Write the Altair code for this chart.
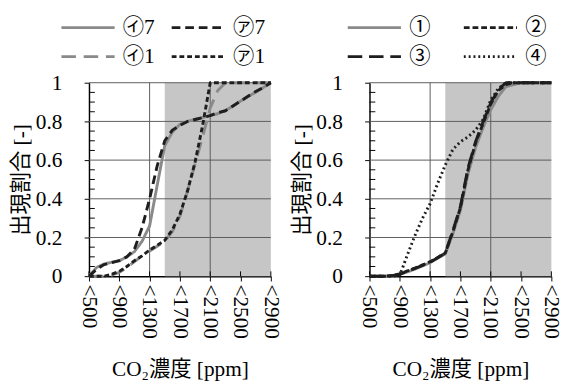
import altair as alt
import pandas as pd

# Upper bound of each CO2 concentration bin [ppm]
co2_bins = [500, 600, 700, 800, 900, 1000, 1100, 1200, 1300, 1400, 1500, 1600, 1700,
            1800, 1900, 2000, 2100, 2200, 2300, 2400, 2500, 2600, 2700, 2800, 2900]

# Left panel: cumulative share of time below each bin
left_names = ["㋑7", "㋑1", "㋐7", "㋐1"]
left_i7 = [0.0, 0.045, 0.063, 0.072, 0.08, 0.10, 0.127, 0.18, 0.26, 0.47, 0.675, 0.745, 0.785,
           0.80, 0.81, 0.82, 0.83, 0.84, 0.855, 0.88, 0.905, 0.93, 0.95, 0.975, 1.0]
left_i1 = [0.0, 0.0, 0.0, 0.005, 0.02, 0.045, 0.075, 0.105, 0.13, 0.155, 0.18, 0.23, 0.31,
           0.44, 0.58, 0.72, 0.87, 0.96, 1.0, 1.0, 1.0, 1.0, 1.0, 1.0, 1.0]
left_a7 = [0.0, 0.035, 0.06, 0.07, 0.08, 0.10, 0.14, 0.25, 0.40, 0.57, 0.70, 0.755, 0.78,
           0.80, 0.81, 0.82, 0.83, 0.845, 0.855, 0.88, 0.905, 0.93, 0.955, 0.975, 1.0]
left_a1 = [0.0, 0.0, 0.0, 0.01, 0.025, 0.05, 0.08, 0.105, 0.135, 0.16, 0.185, 0.24, 0.32,
           0.44, 0.59, 0.78, 1.0, 1.0, 1.0, 1.0, 1.0, 1.0, 1.0, 1.0, 1.0]

# Right panel
right_names = ["①", "③", "②", "④"]
right_1 = [0.0, 0.0, 0.0, 0.003, 0.01, 0.022, 0.037, 0.053, 0.07, 0.093, 0.115, 0.22, 0.34,
           0.53, 0.665, 0.77, 0.86, 0.93, 0.98, 0.99, 1.0, 1.0, 1.0, 1.0, 1.0]
right_3 = [0.0, 0.0, 0.0, 0.003, 0.01, 0.025, 0.04, 0.056, 0.073, 0.095, 0.12, 0.235, 0.36,
           0.56, 0.695, 0.80, 0.895, 0.965, 1.0, 1.0, 1.0, 1.0, 1.0, 1.0, 1.0]
right_2 = [0.0, 0.0, 0.0, 0.004, 0.012, 0.027, 0.042, 0.058, 0.075, 0.097, 0.12, 0.23, 0.355,
           0.55, 0.69, 0.79, 0.89, 0.96, 0.99, 1.0, 1.0, 1.0, 1.0, 1.0, 1.0]
right_4 = [0.0, 0.0, 0.0, 0.0, 0.005, 0.11, 0.21, 0.30, 0.375, 0.48, 0.575, 0.655, 0.695,
           0.72, 0.755, 0.81, 0.91, 0.97, 1.0, 1.0, 1.0, 1.0, 1.0, 1.0, 1.0]

# Axis ticks, grid and shaded band
x_ticks = [500, 900, 1300, 1700, 2100, 2500, 2900]
y_ticks = [0, 0.2, 0.4, 0.6, 0.8, 1]
y_minor = [0.05, 0.1, 0.15, 0.25, 0.3, 0.35, 0.45, 0.5, 0.55, 0.65, 0.7, 0.75, 0.85, 0.9, 0.95]
grid_x = [1300, 2100]
grid_y = [0.2, 0.4, 0.6, 0.8, 1.0]
shade_band = [1500, 2900]
shade_share = [0, 1]

FONT = "Liberation Serif, Noto Sans CJK JP"
GRAY = "#8a8a8a"
BLACK = "#1e1e1e"
W, H = 188, 200

xs = alt.Scale(domain=[500, 2900], nice=False, zero=False)
ys = alt.Scale(domain=[0, 1], nice=False)


def panel(names, series, colors, dashes, widths, legend_x, col_pad):
    rows = []
    for name, vals in zip(names, series):
        for c, v in zip(co2_bins, vals):
            rows.append({"co2": c, "share": v, "series": name})
    df = pd.DataFrame(rows)

    band = pd.DataFrame({"x0": [shade_band[0]], "x1": [shade_band[1]],
                         "y0": [shade_share[0]], "y1": [shade_share[1]]})
    shade = alt.Chart(band).mark_rect(color="#c6c6c6").encode(
        x=alt.X("x0:Q", scale=xs, axis=None),
        x2="x1:Q",
        y=alt.Y("y0:Q", scale=ys, axis=None),
        y2="y1:Q",
    )
    hgrid = alt.Chart(pd.DataFrame({"v": grid_y})).mark_rule(color="#5a5a5a", strokeWidth=1).encode(
        y=alt.Y("v:Q", scale=ys, axis=None)
    )
    vgrid = alt.Chart(pd.DataFrame({"v": grid_x})).mark_rule(color="#5a5a5a", strokeWidth=1).encode(
        x=alt.X("v:Q", scale=xs, axis=None)
    )
    yminor = alt.Chart(pd.DataFrame({"v": y_minor})).mark_rule(color="black", strokeWidth=1).encode(
        y=alt.Y("v:Q", scale=ys, axis=None), x=alt.value(0), x2=alt.value(6)
    )
    xinner = alt.Chart(pd.DataFrame({"v": x_ticks})).mark_rule(color="black", strokeWidth=1).encode(
        x=alt.X("v:Q", scale=xs, axis=None), y=alt.value(H - 5), y2=alt.value(H)
    )
    lines = alt.Chart(df).mark_line(strokeJoin="round").encode(
        x=alt.X(
            "co2:Q",
            scale=xs,
            title="CO₂濃度 [ppm]",
            axis=alt.Axis(values=x_ticks, labelExpr="'<' + datum.value", labelAngle=90,
                          labelPadding=3, titlePadding=21, labelOverlap=False,
                          labelFlush=False, labelFont=FONT, titleFont=FONT),
        ),
        y=alt.Y(
            "share:Q",
            scale=ys,
            title="出現割合 [-]",
            axis=alt.Axis(values=y_ticks, format=".1~f", labelPadding=23, titlePadding=3,
                          labelOverlap=False, labelFlush=False, labelFont=FONT,
                          titleFont=FONT),
        ),
        color=alt.Color(
            "series:N",
            scale=alt.Scale(domain=names, range=colors),
            legend=alt.Legend(
                orient="none", legendX=legend_x, legendY=-68, columns=2, title=None,
                symbolType="stroke", symbolSize=3025, symbolStrokeWidth=2.5,
                clipHeight=22,
                labelFont=FONT, labelFontSize=22, labelColor="black", labelOffset=7,
                columnPadding=col_pad, rowPadding=8, padding=0,
            ),
        ),
        strokeDash=alt.StrokeDash(
            "series:N", scale=alt.Scale(domain=names, range=dashes), legend=None
        ),
        strokeWidth=alt.StrokeWidth(
            "series:N", scale=alt.Scale(domain=names, range=widths), legend=None
        ),
    )
    return alt.layer(shade, hgrid, vgrid, yminor, xinner, lines).resolve_axis(
        x="independent", y="independent"
    ).properties(width=W, height=H)


left = panel(
    left_names,
    [left_i7, left_i1, left_a7, left_a1],
    [GRAY, GRAY, BLACK, BLACK],
    [[1, 0], [15, 8], [9, 5], [5, 3]],
    [3, 3, 2.5, 2.5],
    -30, 15,
)
right = panel(
    right_names,
    [right_1, right_3, right_2, right_4],
    [GRAY, BLACK, BLACK, BLACK],
    [[1, 0], [15, 7], [6, 3], [2, 3]],
    [3, 3, 2.5, 2.5],
    -24, 32,
)

chart = alt.hconcat(left, right, spacing=8).resolve_scale(
    color="independent", strokeDash="independent", strokeWidth="independent"
).properties(
    padding={"left": 10, "top": 11, "right": 0, "bottom": 0}
).configure_view(stroke=None).configure_axis(
    grid=False,
    domainColor="black",
    domainWidth=1.5,
    tickColor="black",
    tickSize=5,
    tickWidth=1,
    labelFont=FONT,
    labelFontSize=22,
    labelColor="black",
    titleFont=FONT,
    titleFontSize=22,
    titleFontWeight="normal",
    titleColor="black",
)

chart.save("out.html", embed_options={"renderer": "svg", "actions": False})
